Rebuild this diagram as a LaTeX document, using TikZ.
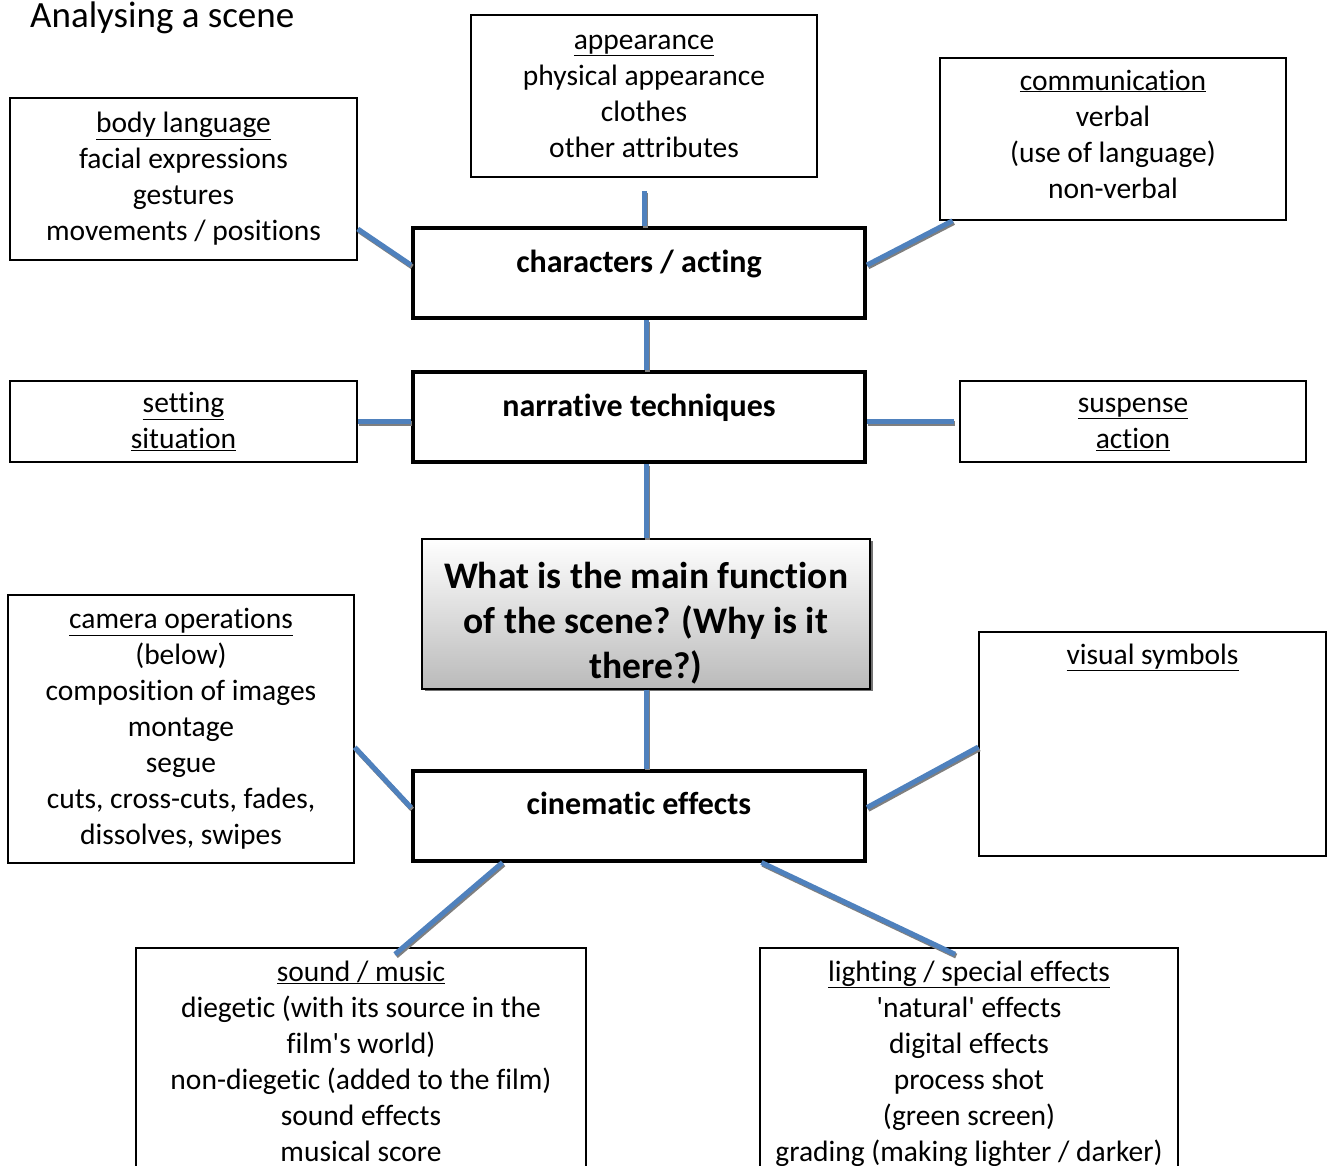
\documentclass[tikz,border=0pt]{standalone}
\usepackage{fontspec}
\setmainfont{Carlito}[Ligatures={TeXOff,NoCommon}]
\usetikzlibrary{positioning, shadows}
\definecolor{linkblue}{HTML}{4F81BD}
\definecolor{linkshade}{HTML}{7F7F7F}

\tikzset{
  textbox/.style={draw, line width=1.5pt, inner sep=0pt, align=center,
    font=\fontsize{29.5}{36}\selectfont},
  keybox/.style={draw, line width=4pt, inner sep=0pt, align=center,
    minimum width=452pt, text height=44pt, text depth=46pt,
    font=\fontsize{32}{39}\selectfont\bfseries},
  link/.style={draw=linkblue, line width=5pt,
    preaction={draw=linkshade, line width=5pt,
      transform canvas={shift={(1.2pt,-1.8pt)}}}}
}

\begin{document}
\begin{tikzpicture}[x=1pt, y=-1pt]
\useasboundingbox (0,0) rectangle (1331,1165);
\node (title) [anchor=base west, inner sep=0pt, font=\fontsize{37}{44}\selectfont] at (30,27) {Analysing a scene};

% the spine
\node (chars) [keybox] at (639,273) {characters / acting};
\node (narr) [keybox, below=50pt of chars] {narrative techniques};
\node (main) [draw, line width=1.5pt, inner sep=0pt, align=center,
  minimum width=448pt, text height=140pt, text depth=10pt,
  top color=white, bottom color=black!27,
  drop shadow={shadow xshift=2.5pt, shadow yshift=-2.5pt, fill=black!55, opacity=1},
  font=\fontsize{37.5}{45}\selectfont\bfseries,
  below=74pt of narr, xshift=7pt]
  {What is the main function\\of the scene? (Why is it\\there?)};
\node (cine) [keybox, below=79pt of main, xshift=-7pt] {cinematic effects};

% boxes round it
\node (body) [textbox, minimum width=347pt, minimum height=162pt] at (183.5,179)
  {\underline{body language}\\facial expressions\\gestures\\movements / positions};
\node (appear) [textbox, minimum width=346pt, minimum height=162pt] at (644,96)
  {\underline{appearance}\\physical appearance\\clothes\\other attributes};
\node (comm) [textbox, minimum width=346pt, text height=140pt, text depth=22pt] at (1113,139)
  {\underline{communication}\\verbal\\(use of language)\\non-verbal};
\node (setting) [textbox, minimum width=347pt, minimum height=81pt] at (183.5,421.5)
  {\underline{setting}\\\underline{situation}};
\node (susp) [textbox, minimum width=346pt, text height=67.5pt, text depth=13.5pt] at (1133,421.5)
  {\underline{suspense}\\\underline{action}};
\node (camera) [textbox, minimum width=346pt, minimum height=268pt] at (181,729)
  {\underline{camera operations}\\(below)\\composition of images\\montage\\segue\\cuts, cross-cuts, fades,\\dissolves, swipes};
\node (visual) [textbox, minimum width=347pt, text height=32pt, text depth=192pt] at (1152.5,744)
  {\underline{visual symbols}};
\node (sound) [textbox, minimum width=450pt, text height=213pt, text depth=19pt] at (361,1064)
  {\underline{sound / music}\\diegetic (with its source in the\\film's world)\\non-diegetic (added to the film)\\sound effects\\musical score};
\node (light) [textbox, minimum width=418pt, text height=213pt, text depth=19pt] at (969,1064)
  {\underline{lighting / special effects}\\'natural' effects\\digital effects\\process shot\\(green screen)\\grading (making lighter / darker)};

% connectors
\draw[link] (body.-16) -- (chars.178);
\draw[link] ([yshift=-13pt]appear.south) -- (appear.south |- chars.north);
\draw[link] (comm.207) -- (chars.2);
\draw[link] (main.north |- chars.south) -- (main.north |- narr.north);
\draw[link] (setting.east) -- (setting.east -| narr.west);
\draw[link] (susp.west -| narr.east) -- ([xshift=-5pt]susp.west);
\draw[link] (main.north |- narr.south) -- (main.north);
\draw[link] (main.south) -- (main.south |- cine.north);
\draw[link] (camera.-6) -- (cine.178);
\draw[link] (cine.2) -- (visual.181);
\draw[link] (cine.-161.5) -- ([xshift=34pt, yshift=-7pt]sound.north);
\draw[link] (cine.-21) -- ([xshift=-14pt, yshift=-7pt]light.north);
\end{tikzpicture}
\end{document}
